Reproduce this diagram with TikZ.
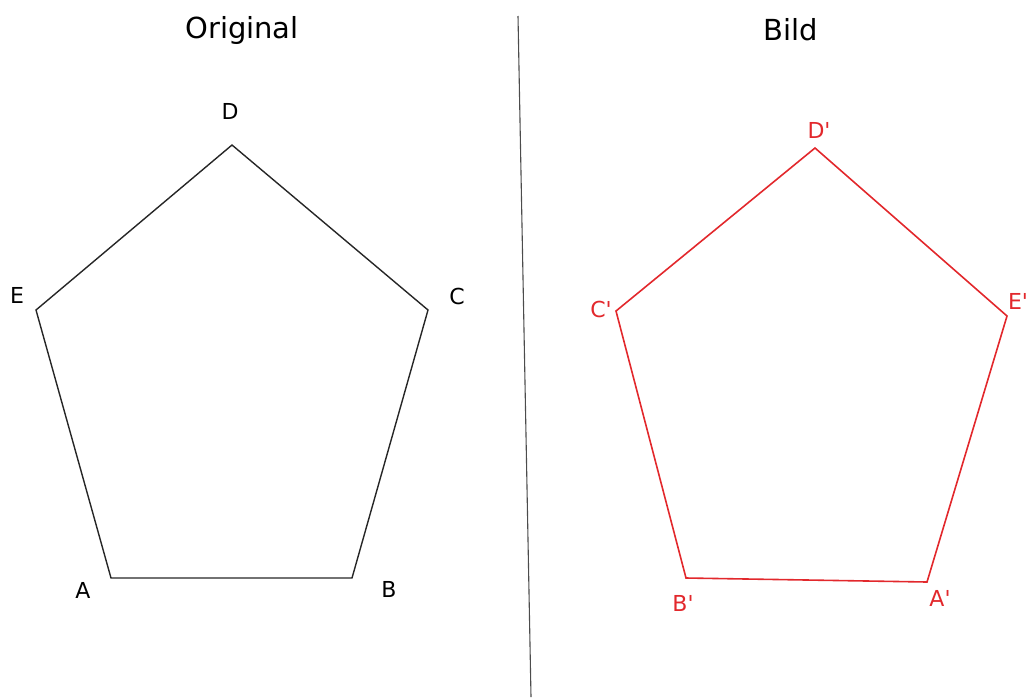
\documentclass[tikz,border=0pt]{standalone}
\usepackage{fontspec}
\setmainfont{DejaVu Sans}
\definecolor{imgred}{RGB}{226,40,44}
\newcommand{\pr}{\textquotesingle}
\begin{document}
\begin{tikzpicture}[x=1pt,y=-1pt,
  lbl/.style={font=\fontsize{22}{24}\selectfont, inner sep=0pt},
  ttl/.style={font=\fontsize{29}{32}\selectfont, inner sep=0pt},
  orig/.style={draw=black!85, line width=1.4pt, line join=miter},
  img/.style={draw=imgred, line width=1.6pt, line join=miter}]
\useasboundingbox (0,0) rectangle (1030,697);
% titles
\node[ttl] (t1) at (242,30) {Original};
\node[ttl] (t2) at (791,30) {Bild};
% mirror line
\coordinate (m1) at (518,16);
\coordinate (m2) at (531,697);
\draw[black!70, line width=1.1pt] (m1) -- (m2);
% original
\coordinate (A) at (111,578);
\coordinate (B) at (352,578);
\coordinate (C) at (428,310);
\coordinate (D) at (232,145);
\coordinate (E) at (36,310);
\draw[orig] (A) -- (B) -- (C) -- (D) -- (E) -- cycle;
\node[lbl] (lA) at (83,590) {A};
\node[lbl] (lB) at (389,589) {B};
\node[lbl] (lC) at (457,296) {C};
\node[lbl] (lD) at (230,111) {D};
\node[lbl] (lE) at (17,295) {E};
% image
\coordinate (A') at (927,582);
\coordinate (B') at (686,578);
\coordinate (C') at (616,311);
\coordinate (D') at (815,148);
\coordinate (E') at (1007,316);
\draw[img] (A') -- (B') -- (C') -- (D') -- (E') -- cycle;
\node[lbl, text=imgred] (lA') at (940,598) {A\pr};
\node[lbl, text=imgred] (lB') at (683,603) {B\pr};
\node[lbl, text=imgred] (lC') at (601,309) {C\pr};
\node[lbl, text=imgred] (lD') at (819,130) {D\pr};
\node[lbl, text=imgred] (lE') at (1018,301) {E\pr};
\end{tikzpicture}
\end{document}
